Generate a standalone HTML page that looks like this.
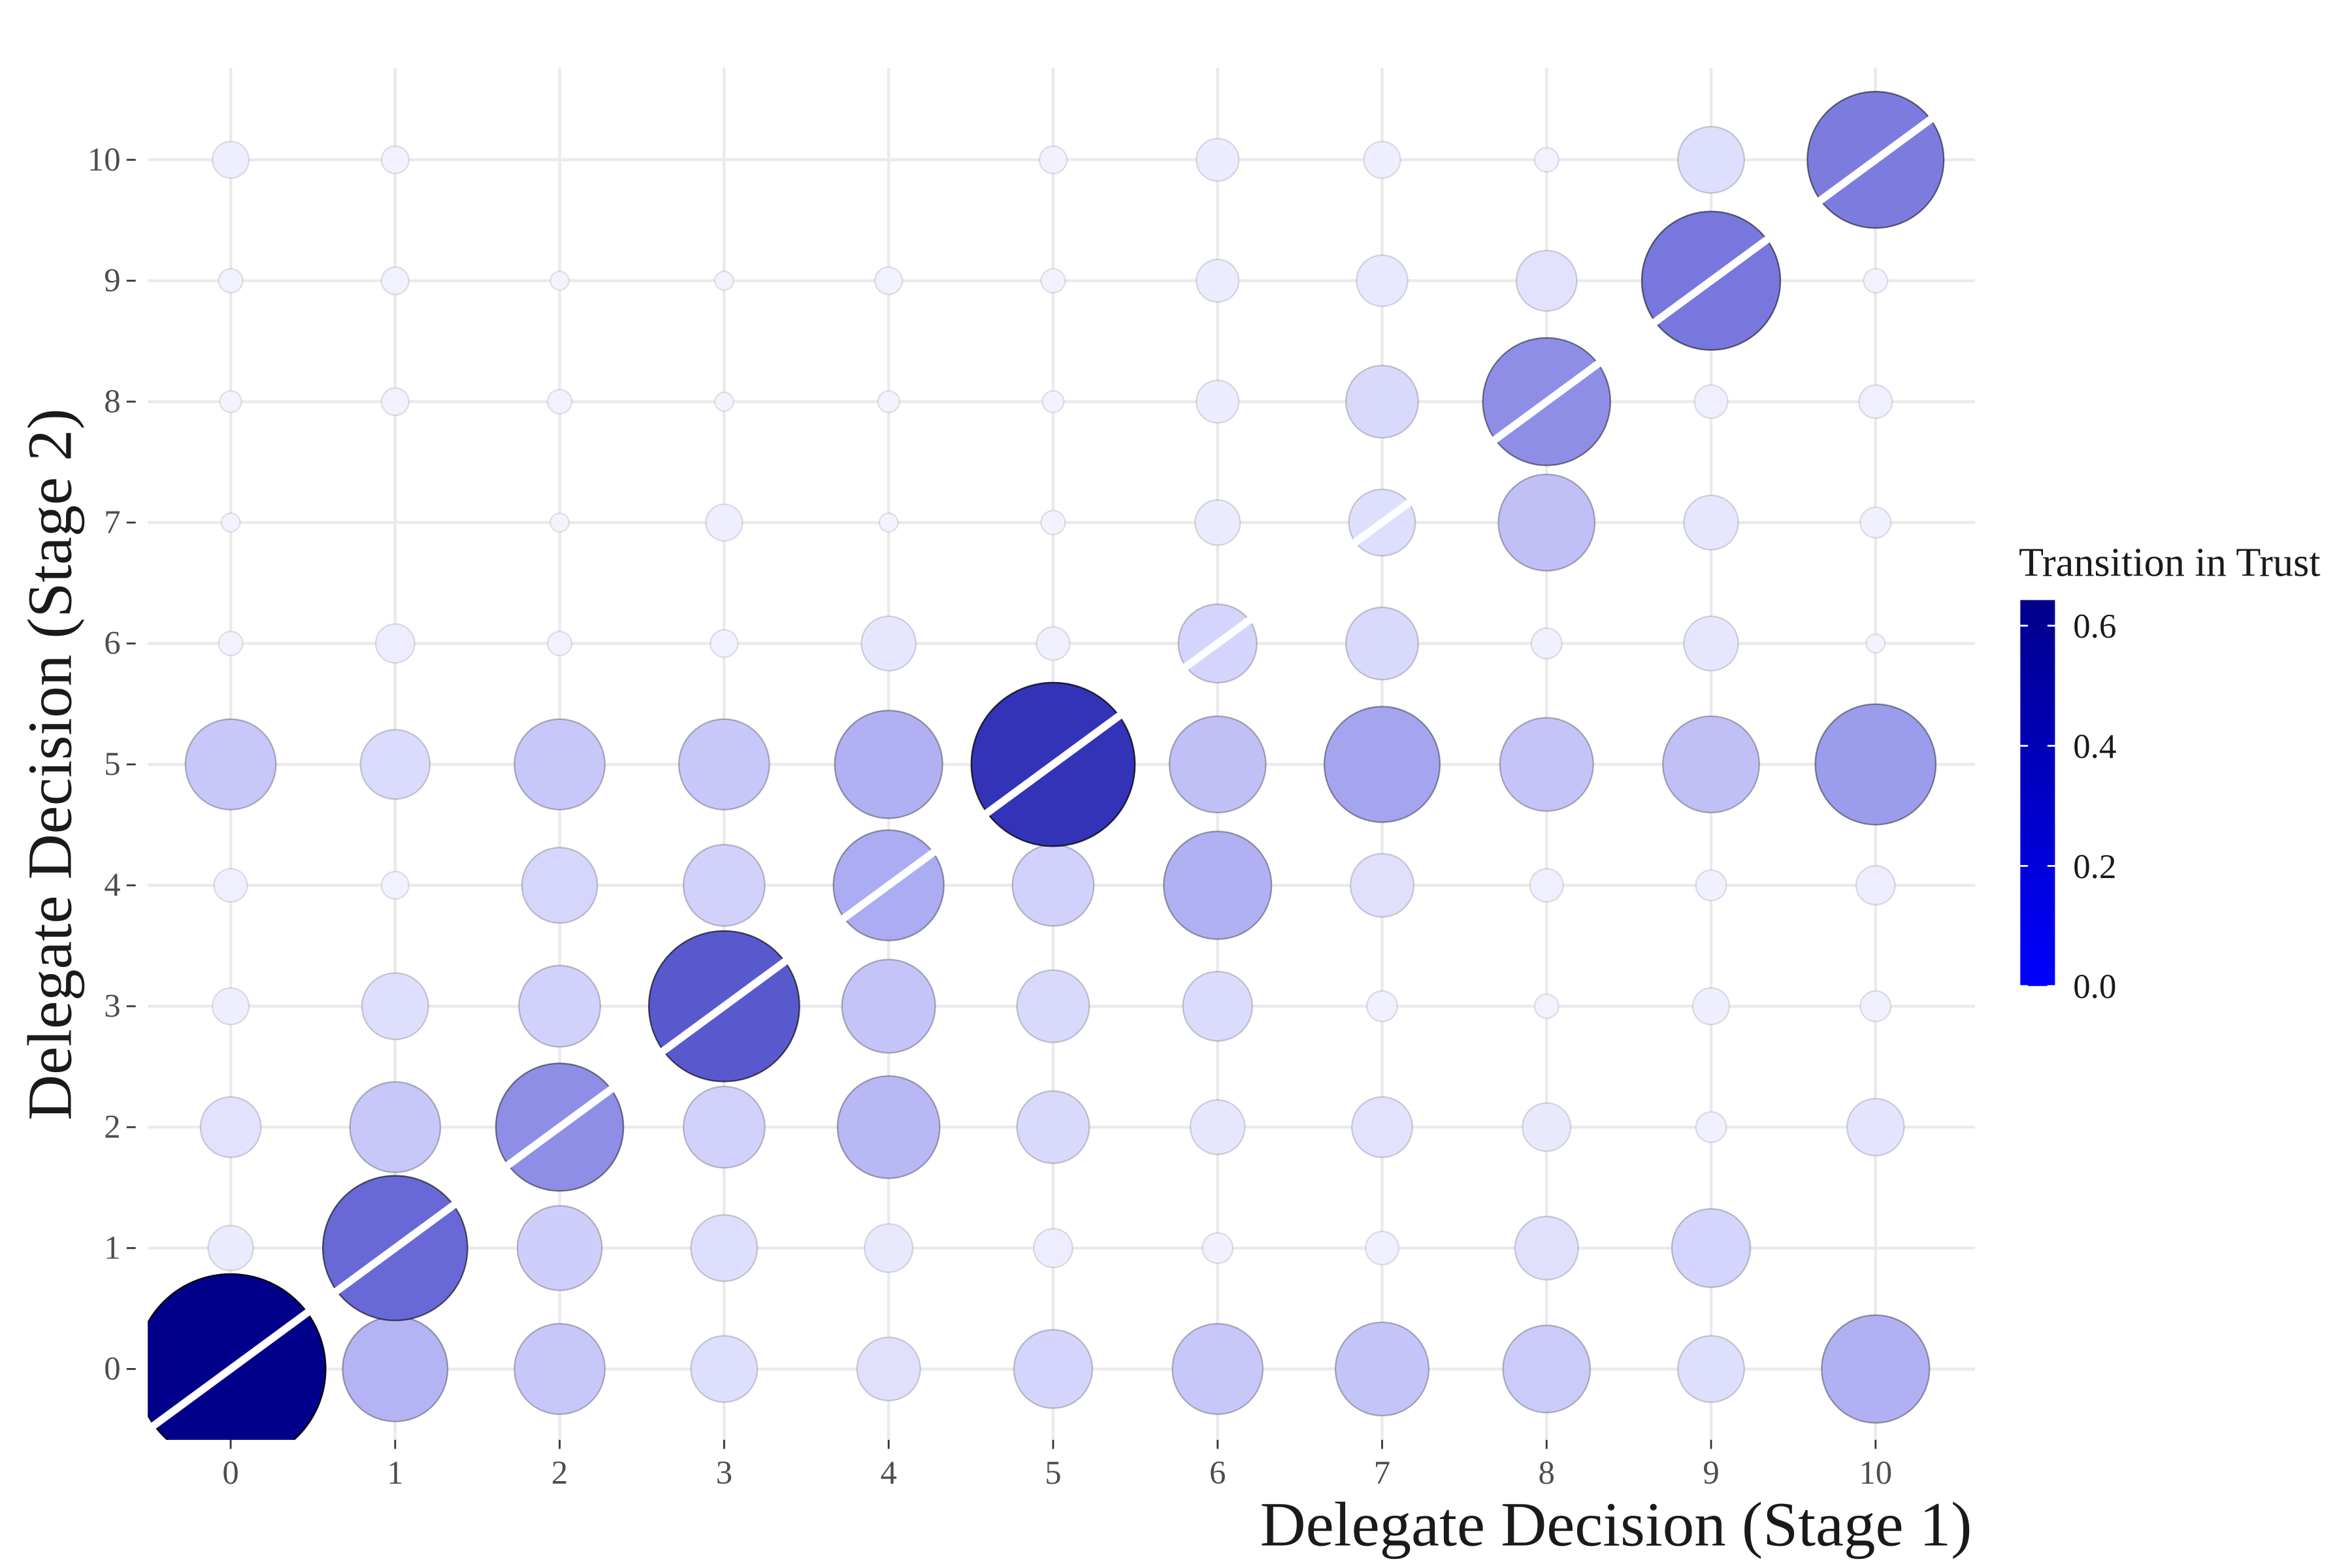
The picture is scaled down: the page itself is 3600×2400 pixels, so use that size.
<!DOCTYPE html>
<html><head><meta charset="utf-8"><style>
html,body{margin:0;padding:0;background:#fff;}
svg{display:block;}
text{font-family:"Liberation Serif",serif;}
</style></head><body>
<svg id="chart" width="3600" height="2400" viewBox="0 0 1560 1040" xmlns="http://www.w3.org/2000/svg">
<defs>
<linearGradient id="cbar" x1="0" y1="1" x2="0" y2="0">
<stop offset="0" stop-color="#0000ff"/><stop offset="1" stop-color="#00008b"/>
</linearGradient>
<clipPath id="panelClip"><rect x="98" y="45" width="1212" height="910"/></clipPath>
</defs>
<rect x="0" y="0" width="1560" height="1040" fill="#fff"/>
<g id="grid"></g>
<g id="points" clip-path="url(#panelClip)"></g>
<g id="axes"></g>
<text x="1308" y="1025" font-size="42" text-anchor="end" fill="#1a1a1a">Delegate Decision (Stage 1)</text>
<text transform="translate(47,507) rotate(-90)" font-size="42" text-anchor="middle" fill="#1a1a1a">Delegate Decision (Stage 2)</text>
<g>
<text x="1339" y="382" font-size="27" fill="#1a1a1a">Transition in Trust</text>
<rect x="1340" y="398" width="23" height="256" fill="url(#cbar)"/>
<g id="cbticks"></g>
</g>
<script>
const xCats=[0,1,2,3,4,5,6,7,8,9,10];
const yCats=[0,1,2,3,4,5,6,7,8,9,10];
const tickLabels=["0","1","2","3","4","5","6","7","8","9","10"];
const row0=[.62,.19,.141,.076,.069,.106,.141,.15,.131,.076,.2];
const row1=[.035,.36,.123,.076,.04,.026,.016,.019,.069,.106,0];
const row2=[.063,.141,.28,.114,.18,.09,.051,.063,.04,.016,.056];
const row3=[.023,.076,.114,.39,.15,.09,.083,.016,.01,.023,.016];
const row4=[.019,.013,.098,.114,.21,.114,.2,.069,.019,.016,.026];
const row5=[.141,.083,.141,.141,.2,.46,.16,.23,.15,.16,.25];
const row6=[.01,.026,.01,.013,.051,.019,.106,.09,.016,.051,.006];
const row7=[.006,0,.006,.023,.006,.01,.035,.076,.16,.051,.016];
const row8=[.008,.013,.01,.006,.008,.008,.031,.09,.28,.019,.019];
const row9=[.01,.013,.006,.006,.013,.01,.031,.045,.063,.33,.01];
const row10=[.023,.013,0,0,0,.013,.031,.023,.01,.076,.32];
const cbTicks=[0,0.2,0.4,0.6];
const cbLabels=["0.0","0.2","0.4","0.6"];
const rows=[row0,row1,row2,row3,row4,row5,row6,row7,row8,row9,row10];

const NS="http://www.w3.org/2000/svg";
const sx=v=>153+v*109.1;
const sy=v=>908-v*80.2;
const cbY=v=>654-v*(654-415)/0.6;
function mk(tag,attrs,parent){const e=document.createElementNS(NS,tag);for(const k in attrs)e.setAttribute(k,attrs[k]);parent.appendChild(e);return e;}
const grid=document.getElementById('grid'),pts=document.getElementById('points'),axes=document.getElementById('axes'),cbt=document.getElementById('cbticks');
xCats.forEach((c,i)=>{
  const l=mk('line',{x1:sx(c),x2:sx(c),y1:45,y2:955,stroke:'#ebebeb','stroke-width':2},grid);
  
  
  const t=mk('line',{x1:sx(c),x2:sx(c),y1:955,y2:961,stroke:'#333','stroke-width':1.2},axes);
  
  
  const tx=mk('text',{x:sx(c),y:984,'font-size':22,'text-anchor':'middle',fill:'#4d4d4d'},axes);
  tx.textContent=tickLabels[i];
  
  
});
yCats.forEach((c,i)=>{
  const l=mk('line',{x1:98,x2:1310,y1:sy(c),y2:sy(c),stroke:'#ebebeb','stroke-width':2},grid);
  
  
  const t=mk('line',{x1:84,x2:90,y1:sy(c),y2:sy(c),stroke:'#333','stroke-width':1.2},axes);
  
  
  const tx=mk('text',{x:80,y:sy(c)+7,'font-size':22,'text-anchor':'end',fill:'#4d4d4d'},axes);
  tx.textContent=tickLabels[i];
  
  
});
function alphaOf(v){return Math.min(1,0.04+1.1*v+1.2*v*v);}
function color(v){
  const t=Math.min(1,v/0.6);
  const b=255+(139-255)*t;
  const a=alphaOf(v);
  const r=Math.round(255*(1-a)),bl=Math.round(255*(1-a)+b*a);
  return 'rgb('+r+','+r+','+bl+')';
}
rows.forEach((row,yi)=>{
  row.forEach((v,xi)=>{
    if(v<=0)return;
    const r=80*Math.sqrt(v);
    const a=alphaOf(v);
    const c=mk('circle',{cx:sx(xCats[xi]),cy:sy(yCats[yi]),r:r,fill:color(v),stroke:'rgba(0,0,0,'+Math.min(1,0.06+a*0.9).toFixed(3)+')','stroke-width':1},pts);
    
    
  });
});
const dl=mk('line',{x1:sx(-1),y1:sy(-1),x2:sx(11),y2:sy(11),stroke:'#fff','stroke-width':5},pts);


cbTicks.forEach((v,i)=>{
  const y=cbY(v);
  mk('line',{x1:1340,x2:1345,y1:y,y2:y,stroke:'#fff','stroke-width':1.2},cbt);
  mk('line',{x1:1358,x2:1363,y1:y,y2:y,stroke:'#fff','stroke-width':1.2},cbt);
  const tx=mk('text',{x:1375,y:y+8,'font-size':23,fill:'#1a1a1a'},cbt);
  tx.textContent=cbLabels[i];
  
  
});
</script>
</svg>
</body></html>
